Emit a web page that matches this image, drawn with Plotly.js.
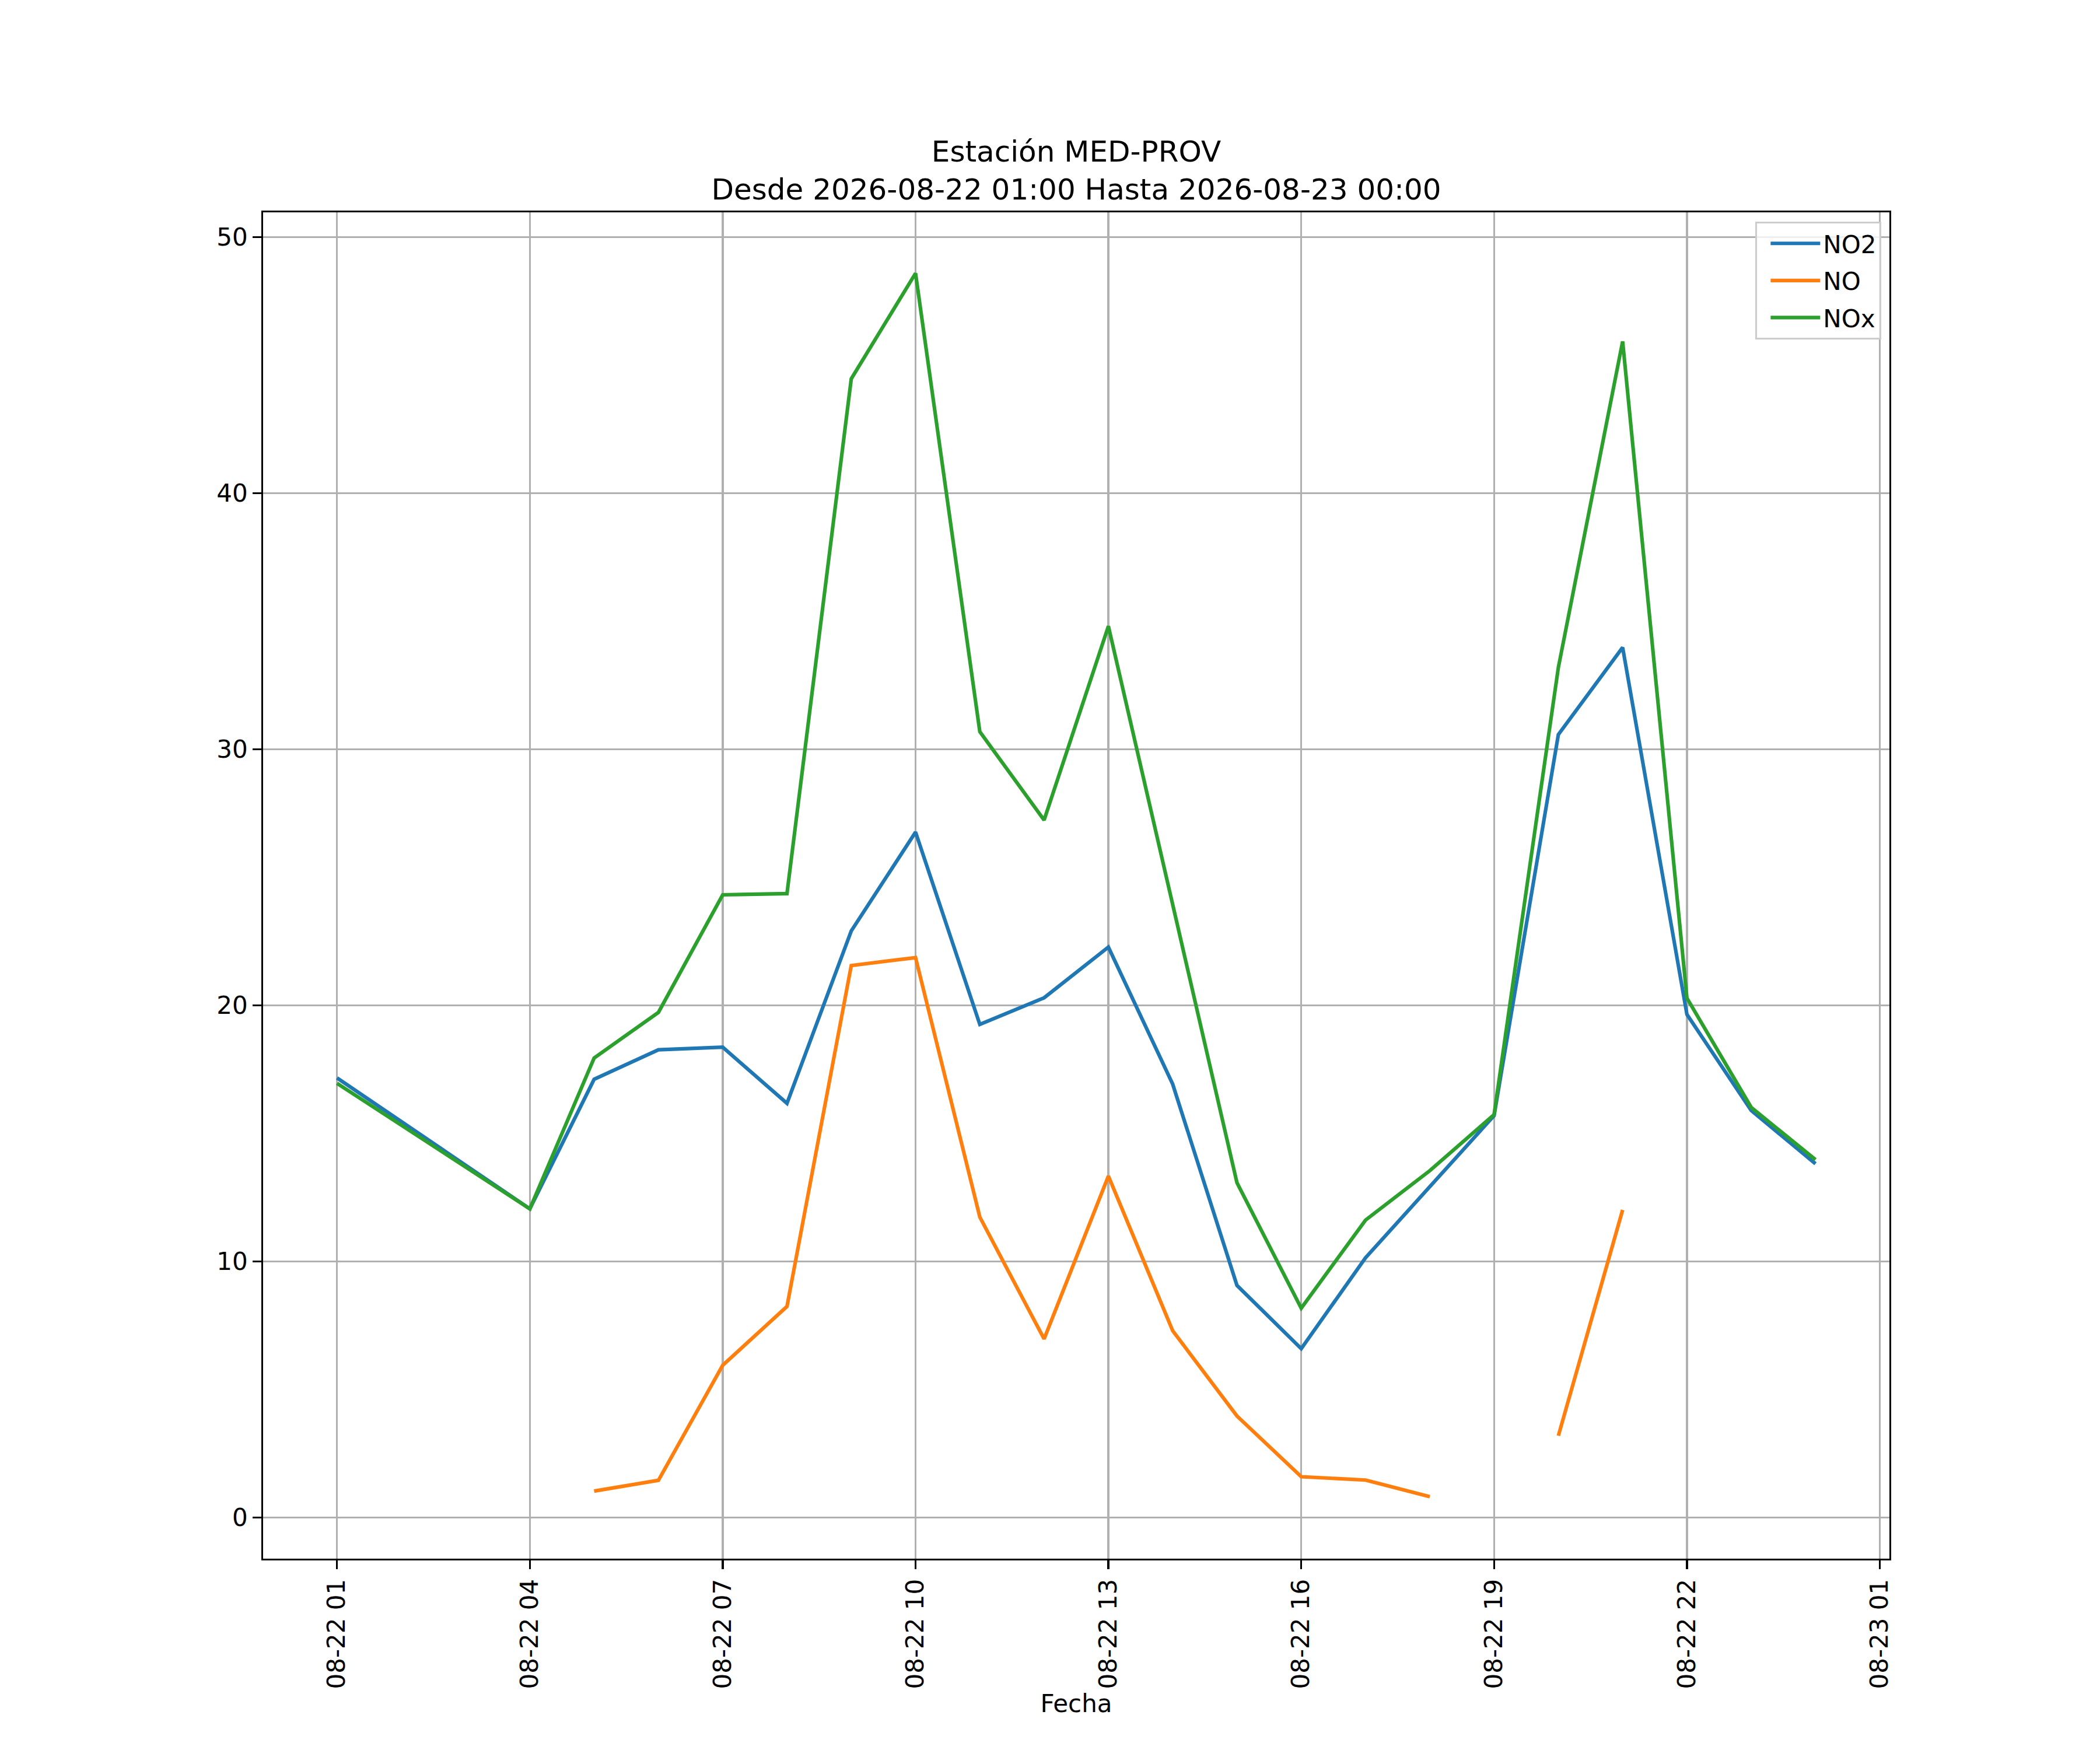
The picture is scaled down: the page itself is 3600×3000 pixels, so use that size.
<!DOCTYPE html>
<html>
<head>
<meta charset="utf-8">
<script src="https://cdn.plot.ly/plotly-3.0.1.min.js"></script>
<style>
  html, body { margin: 0; padding: 0; background: #fff; }
  #plot { width: 3600px; height: 3000px; }
</style>
</head>
<body>
<div id="plot"></div>
<script>
// hourly readings, 02:00 and 03:00 are absent from the record
var times = [
  '2026-08-22 01:00', '2026-08-22 04:00', '2026-08-22 05:00', '2026-08-22 06:00',
  '2026-08-22 07:00', '2026-08-22 08:00', '2026-08-22 09:00', '2026-08-22 10:00',
  '2026-08-22 11:00', '2026-08-22 12:00', '2026-08-22 13:00', '2026-08-22 14:00',
  '2026-08-22 15:00', '2026-08-22 16:00', '2026-08-22 17:00', '2026-08-22 18:00',
  '2026-08-22 19:00', '2026-08-22 20:00', '2026-08-22 21:00', '2026-08-22 22:00',
  '2026-08-22 23:00', '2026-08-23 00:00'
];
var no2 = [17.17, 12.06, 17.12, 18.27, 18.37, 16.18, 22.91, 26.77, 19.26, 20.3, 22.28,
  16.93, 9.07, 6.6, 10.15, 12.9, 15.7, 30.58, 33.98, 19.65, 15.9, 13.82];
var no = [null, null, 1.04, 1.46, 5.95, 8.25, 21.56, 21.87, 11.74, 6.98, 13.34,
  7.3, 3.97, 1.6, 1.47, 0.82, null, 3.2, 12.02, null, null, null];
var nox = [16.96, 12.06, 17.95, 19.73, 24.32, 24.37, 44.47, 48.59, 30.69, 27.24, 34.81,
  23.96, 13.08, 8.18, 11.62, 13.55, 15.74, 33.2, 45.93, 20.29, 16.02, 13.98];

var tickTimes = ['2026-08-22 01:00', '2026-08-22 04:00', '2026-08-22 07:00', '2026-08-22 10:00',
  '2026-08-22 13:00', '2026-08-22 16:00', '2026-08-22 19:00', '2026-08-22 22:00', '2026-08-23 01:00'];
var tickLabels = ['08-22 01', '08-22 04', '08-22 07', '08-22 10', '08-22 13',
  '08-22 16', '08-22 19', '08-22 22', '08-23 01'];

var colors = ['#1f77b4', '#ff7f0e', '#2ca02c'];
var names = ['NO2', 'NO', 'NOx'];
var series = [no2, no, nox];

var traces = series.map(function(s, i) {
  return {
    x: times,
    y: s,
    type: 'scatter',
    mode: 'lines',
    name: names[i],
    legendgroup: 'g' + i,
    connectgaps: false,
    line: { color: colors[i], width: 6.2 }
  };
});

var font = { family: 'DejaVu Sans, sans-serif', size: 42, color: '#000' };

var layout = {
  width: 3600,
  height: 3000,
  paper_bgcolor: '#fff',
  plot_bgcolor: '#fff',
  font: font,
  showlegend: true,
  margin: { l: 451, r: 361, t: 364, b: 328, pad: 0 },
  title: {
    text: 'Estación MED-PROV<br>Desde 2026-08-22 01:00 Hasta 2026-08-23 00:00',
    font: { family: 'DejaVu Sans, sans-serif', size: 50, color: '#000' },
    x: 0.5, xref: 'paper', xanchor: 'center',
    y: 0.9078, yref: 'container', yanchor: 'middle'
  },
  xaxis: {
    type: 'date',
    range: ['2026-08-21 23:51', '2026-08-23 01:09'],
    tickmode: 'array',
    tickvals: tickTimes,
    ticktext: tickLabels,
    tickangle: -90,
    ticks: 'outside', ticklen: 14.6, tickwidth: 3.3, tickcolor: '#000',
    showline: true, linecolor: '#000', linewidth: 3.3, mirror: true,
    showgrid: true, gridcolor: '#b0b0b0', gridwidth: 3.3,
    zeroline: false,
    tickfont: font,
    automargin: false,
    title: { text: 'Fecha', font: font, standoff: 8 }
  },
  yaxis: {
    range: [-1.6, 50.97],
    tickmode: 'array',
    tickvals: [0, 10, 20, 30, 40, 50],
    ticks: 'outside', ticklen: 14.6, tickwidth: 3.3, tickcolor: '#000',
    showline: true, linecolor: '#000', linewidth: 3.3, mirror: true,
    showgrid: true, gridcolor: '#b0b0b0', gridwidth: 3.3,
    zeroline: false,
    tickfont: font,
    automargin: false
  },
  legend: {
    x: 0.995, xanchor: 'right',
    y: 0.993, yanchor: 'top',
    bgcolor: 'rgba(255,255,255,0.8)',
    bordercolor: '#cccccc',
    borderwidth: 3.3,
    font: font,
    itemwidth: 85,
    indentation: 18,
    tracegroupgap: 6
  }
};

Plotly.newPlot('plot', traces, layout, { displayModeBar: false, staticPlot: true });
</script>
</body>
</html>
